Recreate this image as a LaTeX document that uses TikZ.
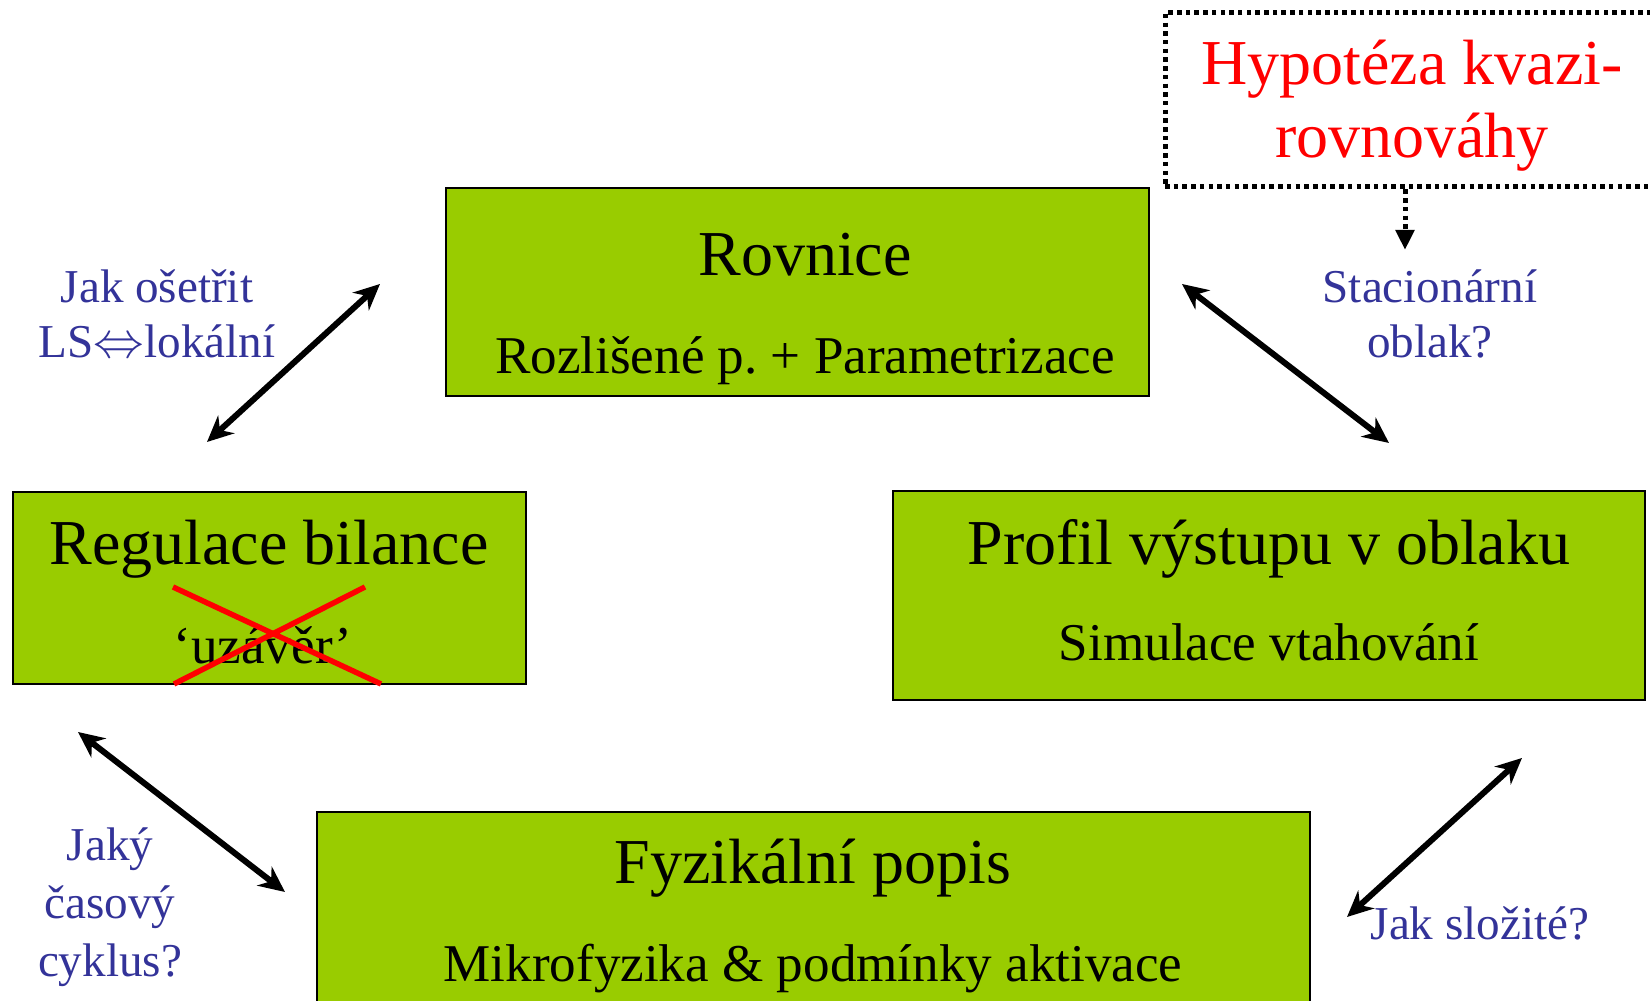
\documentclass[tikz,border=0pt]{standalone}
\usepackage{fontspec}
\setmainfont{Liberation Serif}
\usetikzlibrary{arrows.meta,fit,positioning}
\definecolor{boxgreen}{RGB}{153,204,0}
\definecolor{askblue}{RGB}{51,51,153}
\frenchspacing
\tikzset{>={Stealth[length=0.26cm,width=0.24cm]}, % filled heads on the double arrows
every node/.style={inner sep=0pt}, % text sits exactly where it is placed
}

\begin{document}
\begin{tikzpicture}[x=0.01cm,y=-0.01cm,
	BOX/.style = {rectangle, draw=black, line width=0.6pt, fill=boxgreen, fit={#1}},
	title/.style = {font=\fontsize{18.2}{21}\selectfont, anchor=base},
	sub/.style = {font=\fontsize{15.1}{18}\selectfont, anchor=base},
	ask/.style = {font=\fontsize{13.4}{15.9}\selectfont, text=askblue, align=center, anchor=base},
	link/.style = {<->, line width=0.06cm},
	dots/.style = {line width=0.05cm, dash pattern=on 0.045cm off 0.042cm}]
\clip (0,0) rectangle (1650,1001);
% the four green boxes
\node[BOX={(446,188)(1149,396)}] (rovnice) {};
\node[BOX={(13,492)(526,684)}] (regulace) {};
\node[BOX={(893,491)(1645,700)}] (profil) {};
\node[BOX={(317,812)(1310,1030)}] (fyzika) {};
\node[title] (rovniceT) at (805,276) {Rovnice};
\node[sub] (rovniceS) at (805,374) {Rozlišené p. + Parametrizace};
\node[title] (regulaceT) at (269,565) {Regulace bilance};
\node[sub] (regulaceS) at (263,664) {‘uzávěr’};
\node[title] (profilT) at (1269,565) {Profil výstupu v oblaku};
\node[sub] (profilS) at (1269,661) {Simulace vtahování};
\node[title] (fyzikaT) at (813,884) {Fyzikální popis};
\node[sub] (fyzikaS) at (813,982) {Mikrofyzika \& podmínky aktivace};
% crossed out
\coordinate (x1) at (173,587); \coordinate (x2) at (381,684);
\coordinate (x3) at (365,587); \coordinate (x4) at (174,684);
\draw[red, line width=0.055cm] (x1) -- (x2) (x3) -- (x4);
% hypothesis box (runs off the right edge)
\node[draw=black, dots, fit={(1165,13)(1700,187)}] (hyp) {};
\node[title, text=red, align=center] (hypT) at (1412,158) {Hypotéza kvazi-\\rovnováhy};
\coordinate (hypEnd) at (1405,250);
\draw[dots, -{Triangle[length=0.2cm,width=0.18cm]}] (hyp.south -| hypEnd) -- (hypEnd);
% questions (base = last line)
\node[ask] (q1) at (157,358) {Jak ošetřit\\LS$\Leftrightarrow$lokální};
\node[ask] (q2) at (1430,358) {Stacionární\\oblak?};
\node[ask, font=\fontsize{13.4}{16.5}\selectfont] (q3) at (110,977) {Jaký\\časový\\cyklus?};
\node[ask] (q4) at (1480,940) {Jak složité?};
% double arrows
\coordinate (a1) at (207,442); \coordinate (b1) at (380,284);
\coordinate (a2) at (1182,284); \coordinate (b2) at (1389,443);
\coordinate (a3) at (78,732); \coordinate (b3) at (285,892);
\coordinate (a4) at (1522,758); \coordinate (b4) at (1347,917);
\foreach \i in {1,...,4}
	\draw[link] (a\i) -- (b\i);
\end{tikzpicture}
\end{document}
